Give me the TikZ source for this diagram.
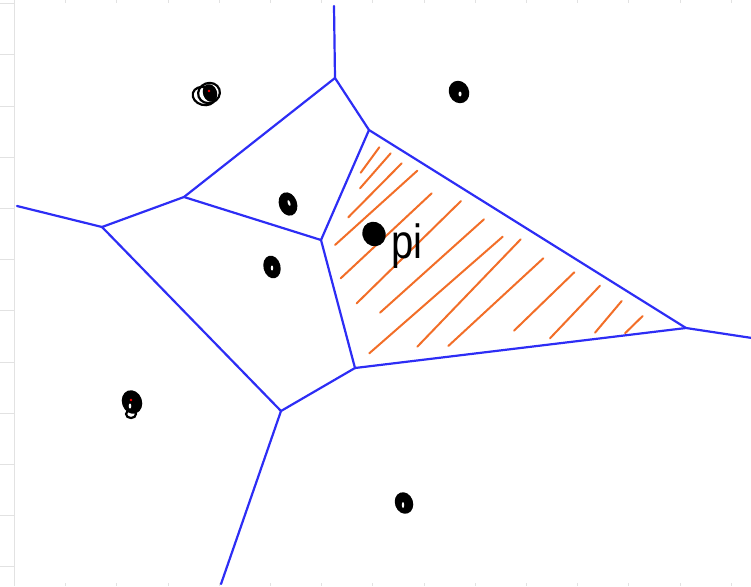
\documentclass[tikz,border=0pt]{standalone}
\usepackage{fontspec}
\newfontfamily\handfont{Liberation Sans}
\definecolor{vblue}{RGB}{45,45,245}
\definecolor{hatchc}{RGB}{242,110,40}
\definecolor{gridc}{RGB}{226,226,226}
\begin{document}
\begin{tikzpicture}[x=1pt,y=-1pt,
  edge/.style={vblue, line width=2.2pt, line cap=round, line join=round},
  hatchline/.style={hatchc, line width=2pt, line cap=round},
  gridline/.style={gridc, line width=0.9pt},
  site/.style={fill=black},
  loopline/.style={draw=black, line width=2.2pt}]
\useasboundingbox (0,0) rectangle (751,586);
% faint grid of the page
\draw[gridline] (14.5,0) -- (14.5,586);
\foreach \k in {0,...,11} \draw[gridline] (0,3.7+51.2*\k) -- (14.5,3.7+51.2*\k);
\foreach \k in {1,...,14} {
  \draw[gridline] (14.5+51.2*\k,0) -- ++(0,3.5);
  \draw[gridline] (14.5+51.2*\k,586) -- ++(0,-3.5);
}
% Voronoi vertices
\coordinate (A) at (335,78);
\coordinate (At) at (334,6);
\coordinate (B) at (369,130);
\coordinate (C) at (686,328);
\coordinate (Cr) at (752,338);
\coordinate (D) at (355,368);
\coordinate (E) at (281,411);
\coordinate (Eb) at (221,584);
\coordinate (F) at (321,240);
\coordinate (G) at (184,197);
\coordinate (H) at (102,227);
\coordinate (Hl) at (17,206);
% hatching of the cell of p_i
\foreach \ax/\ay/\bx/\by in {
  360.7/172.7/379.3/147.3,
  360/188.3/390.7/153.3,
  348.3/217.3/401.7/163.3,
  335/245/417.3/170.7,
  340.7/278.3/431.7/193.3,
  356.7/303.3/461/201,
  380/312.7/484/219.3,
  369.3/353.3/502.7/236.7,
  417.3/346.7/520.7/239.3,
  448.3/346/543.3/258.3,
  514/330.7/574.3/272.3,
  550/338.3/600/285.7,
  595/332.7/621.7/301,
  625/333.3/642.7/316}
  \draw[hatchline] (\ax,\ay) -- (\bx,\by);
% Voronoi edges
\draw[edge] (At) -- (A);
\draw[edge] (A) -- (G);
\draw[edge] (A) -- (B);
\draw[edge] (B) -- (F);
\draw[edge] (B) -- (C);
\draw[edge] (C) -- (Cr);
\draw[edge] (C) -- (D);
\draw[edge] (D) -- (F);
\draw[edge] (D) -- (E);
\draw[edge] (E) -- (Eb);
\draw[edge] (E) -- (H);
\draw[edge] (H) -- (Hl);
\draw[edge] (H) -- (G);
\draw[edge] (G) -- (F);
% sites
\draw[loopline] (204,96) ellipse [x radius=11.5, y radius=9, rotate=-15];
\draw[loopline] (209,93) ellipse [x radius=11, y radius=10, rotate=20];
\fill[site] (210,93) ellipse [x radius=7, y radius=9, rotate=20];
\fill[red] (209,91) circle (1.3);
\fill[site] (459,92) ellipse [x radius=10, y radius=11.5, rotate=25];
\fill[white] (460,94) ellipse [x radius=1.5, y radius=2.5];
\fill[site] (288,204) ellipse [x radius=9, y radius=12, rotate=20];
\fill[white] (289,203) ellipse [x radius=1.2, y radius=3, rotate=20];
\fill[site] (272,267) ellipse [x radius=8.5, y radius=11.5, rotate=15];
\fill[white] (272,268) ellipse [x radius=1.2, y radius=2.5];
\fill[site] (374,234) ellipse [x radius=11.5, y radius=12.5, rotate=30];
\fill[site] (132,402) ellipse [x radius=10, y radius=12, rotate=20];
\draw[loopline] (131,414) ellipse [x radius=5, y radius=4];
\fill[red] (131,400) circle (1.3);
\fill[white] (130,406) ellipse [x radius=1.3, y radius=2.5];
\fill[site] (404,503) ellipse [x radius=9, y radius=11, rotate=20];
\fill[white] (403,505) ellipse [x radius=1.2, y radius=3];
% label
\node[anchor=base west, inner sep=0, font=\handfont\fontsize{40}{40}\selectfont] (pi) at (391,258) {\scalebox{1}[1.2]{pi}};
\end{tikzpicture}
\end{document}
